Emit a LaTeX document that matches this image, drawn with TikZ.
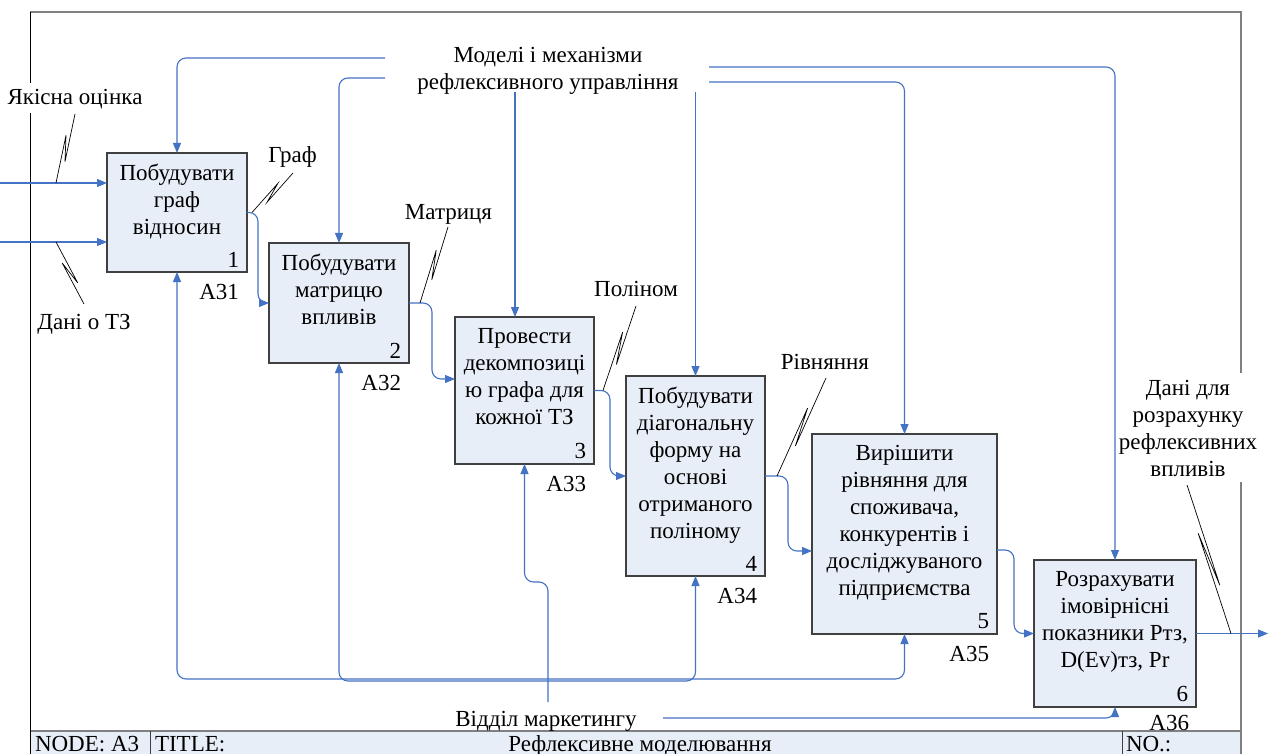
\documentclass[tikz,border=0pt]{standalone}
\usepackage{fontspec}
\setmainfont{Liberation Serif}[Ligatures=TeX]
\newfontfamily\tnr{Liberation Serif}
\usetikzlibrary{arrows.meta,calc}
\definecolor{arrblue}{RGB}{68,114,196}
\definecolor{boxfill}{RGB}{232,238,247}
\definecolor{boxline}{RGB}{64,64,64}
\definecolor{frameline}{RGB}{128,128,128}
\newcommand{\squig}[2]{\draw[squigline] (#1) -- ($(#1)!0.68!(#2)!3pt!90:(#2)$) -- ($(#1)!0.32!(#2)!3pt!-90:(#2)$) -- (#2);}
\begin{document}
\begin{tikzpicture}[x=1pt,y=-1pt,
  every node/.style={font=\tnr\fontsize{23}{27}\selectfont, inner sep=0pt, outer sep=0pt},
  box/.style={draw=boxline, fill=boxfill, line width=1.2pt},
  btext/.style={align=center, anchor=north},
  arr/.style={draw=arrblue, line width=1.1pt, rounded corners=9pt, -{Triangle[length=10pt,width=8pt]}},
  squigline/.style={draw=black, line width=0.7pt},
  frame/.style={draw=frameline, line width=1.6pt}]
\path[use as bounding box, fill=white] (0,0) rectangle (1269,754);

% frame and title bar
\path[fill=boxfill] (30,731) rectangle (1241,756);
\draw[frame] (30,12) -- (1241,12) -- (1241,373);
\draw[frame] (1241,482) -- (1241,756);
\draw[frame] (30,731) -- (1241,731);
\draw[draw=black, line width=1pt] (30,12) -- (30,83);
\draw[draw=black, line width=1pt] (30,113) -- (30,756);
\draw[draw=boxline, line width=1pt] (150,731) -- (150,756);
\draw[draw=boxline, line width=1pt] (1122,731) -- (1122,756);
\node[anchor=base west] (node) at (35,751) {NODE: A3};
\node[anchor=base west] (title) at (155,751) {TITLE:};
\node[anchor=base] (titletext) at (640,751) {Рефлексивне моделювання};
\node[anchor=base west] (no) at (1126,751) {NO.:};

% boxes
\node[box, minimum width=140pt, minimum height=119pt] (b1) at (177,212.5) {};
\node[box, minimum width=140pt, minimum height=120pt] (b2) at (339,303) {};
\node[box, minimum width=139pt, minimum height=147pt] (b3) at (524.5,390.5) {};
\node[box, minimum width=139pt, minimum height=200pt] (b4) at (695.5,476) {};
\node[box, minimum width=185pt, minimum height=200pt] (b5) at (904.5,534) {};
\node[box, minimum width=162pt, minimum height=147pt] (b6) at (1115,633.5) {};

\node[btext] (t1) at ($(b1.north)+(0,11)$) {Побудувати\\граф\\відносин};
\node[btext] (t2) at ($(b2.north)+(0,11)$) {Побудувати\\матрицю\\впливів};
\node[btext] (t3) at ($(b3.north)+(0,11)$) {Провести\\декомпозиці\\ю графа для\\кожної ТЗ};
\node[btext] (t4) at ($(b4.north)+(0,11)$) {Побудувати\\діагональну\\форму на\\основі\\отриманого\\поліному};
\node[btext] (t5) at ($(b5.north)+(0,11)$) {Вирішити\\рівняння для\\споживача,\\конкурентів і\\досліджуваного\\підприємства};
\node[btext] (t6) at ($(b6.north)+(0,11)$) {Розрахувати\\імовірнісні\\показники Pтз,\\D(Ev)тз, Pr};

\foreach \i in {1,...,5}{
  \node[anchor=south east] (n\i) at ($(b\i.south east)+(-8,-5)$) {\i};
  \node[anchor=base east] (a\i) at ($(b\i.south east)+(-8,27)$) {A3\i};
}
\node[anchor=south east] (n6) at ($(b6.south east)+(-8,-5)$) {6};
\node[anchor=base east] (a6) at ($(b6.south east)+(-7,23)$) {A36};

% labels
\node[anchor=base] (lq) at (75,105) {Якісна оцінка};
\node[anchor=base] (ld) at (84,329) {Дані о ТЗ};
\node[anchor=base] (lg) at (292.5,163) {Граф};
\node[anchor=base] (lm) at (448.5,219) {Матриця};
\node[anchor=base] (lp) at (636,296) {Поліном};
\node[anchor=base] (lr) at (825,369) {Рівняння};
\node[align=center, anchor=north] (lout) at (1188,380) {Дані для\\розрахунку\\рефлексивних\\впливів};
\node[align=center, anchor=north] (lctrl) at (548,47) {Моделі і механізми\\рефлексивного управління};
\node[anchor=base] (lmech) at (546,726) {Відділ маркетингу};

% inputs
\coordinate (in1) at (0,183);
\coordinate (in2) at (0,242);
\draw[arr] (in1) -- (in1 -| b1.west);
\draw[arr] (in2) -- (in2 -| b1.west);

% box to box
\draw[arr] (b1.east) -- ++(11,0) |- (b2.west);
\draw[arr] (b2.east) -- ++(23,0) |- ($(b3.west)+(0,-11.5)$);
\draw[arr] (b3.east) -- ++(16,0) |- (b4.west);
\draw[arr] (b4.east) -- ++(23,0) |- ($(b5.west)+(0,17)$);
\draw[arr] ($(b5.east)+(0,16)$) -- ++(17,0) |- (b6.west);
\coordinate (out) at (1268,633.5);
\draw[arr] (b6.east) -- (out);

% controls
\coordinate (c1) at (385,58);
\coordinate (c2) at (385,78);
\coordinate (c3) at (515,92);
\coordinate (c4) at (695.5,92);
\coordinate (c5) at (709,82);
\coordinate (c6) at (709,67);
\draw[arr] (c1) -| (b1.north);
\draw[arr] (c2) -| (b2.north);
\draw[arr] (c3) -- (c3 |- b3.north);
\draw[arr] (c4) -- (b4.north);
\draw[arr] (c5) -| (b5.north);
\draw[arr] (c6) -| (b6.north);

% mechanisms
\coordinate (m0) at (548,702);
\coordinate (mj1) at (548,679);
\coordinate (mj2) at (548,681);
\coordinate (m6) at (663,718);
\draw[arr] (m0) -- ++(0,-120) -| (b3.south);
\draw[arr] (mj1) -| (b1.south);
\draw[arr] (mj2) -| (b2.south);
\draw[arr] (mj2) -| (b4.south);
\draw[arr] (mj1) -| (b5.south);
\draw[arr] (m6) -| (b6.south);

% squiggles
\coordinate (s1a) at (75,114);   \coordinate (s1b) at (56,183);
\coordinate (s2a) at (84,304);   \coordinate (s2b) at (56,242);
\coordinate (s3a) at (293,173);  \coordinate (s3b) at (252,212.5);
\coordinate (s4a) at (448,227);  \coordinate (s4b) at (420,303);
\coordinate (s5a) at (636,306);  \coordinate (s5b) at (603,390.5);
\coordinate (s6a) at (826,378);  \coordinate (s6b) at (777,476);
\coordinate (s7a) at (1187,485); \coordinate (s7b) at (1231,633.5);
\squig{s1a}{s1b}
\squig{s2a}{s2b}
\squig{s3a}{s3b}
\squig{s4a}{s4b}
\squig{s5a}{s5b}
\squig{s6a}{s6b}
\squig{s7a}{s7b}
\end{tikzpicture}
\end{document}
